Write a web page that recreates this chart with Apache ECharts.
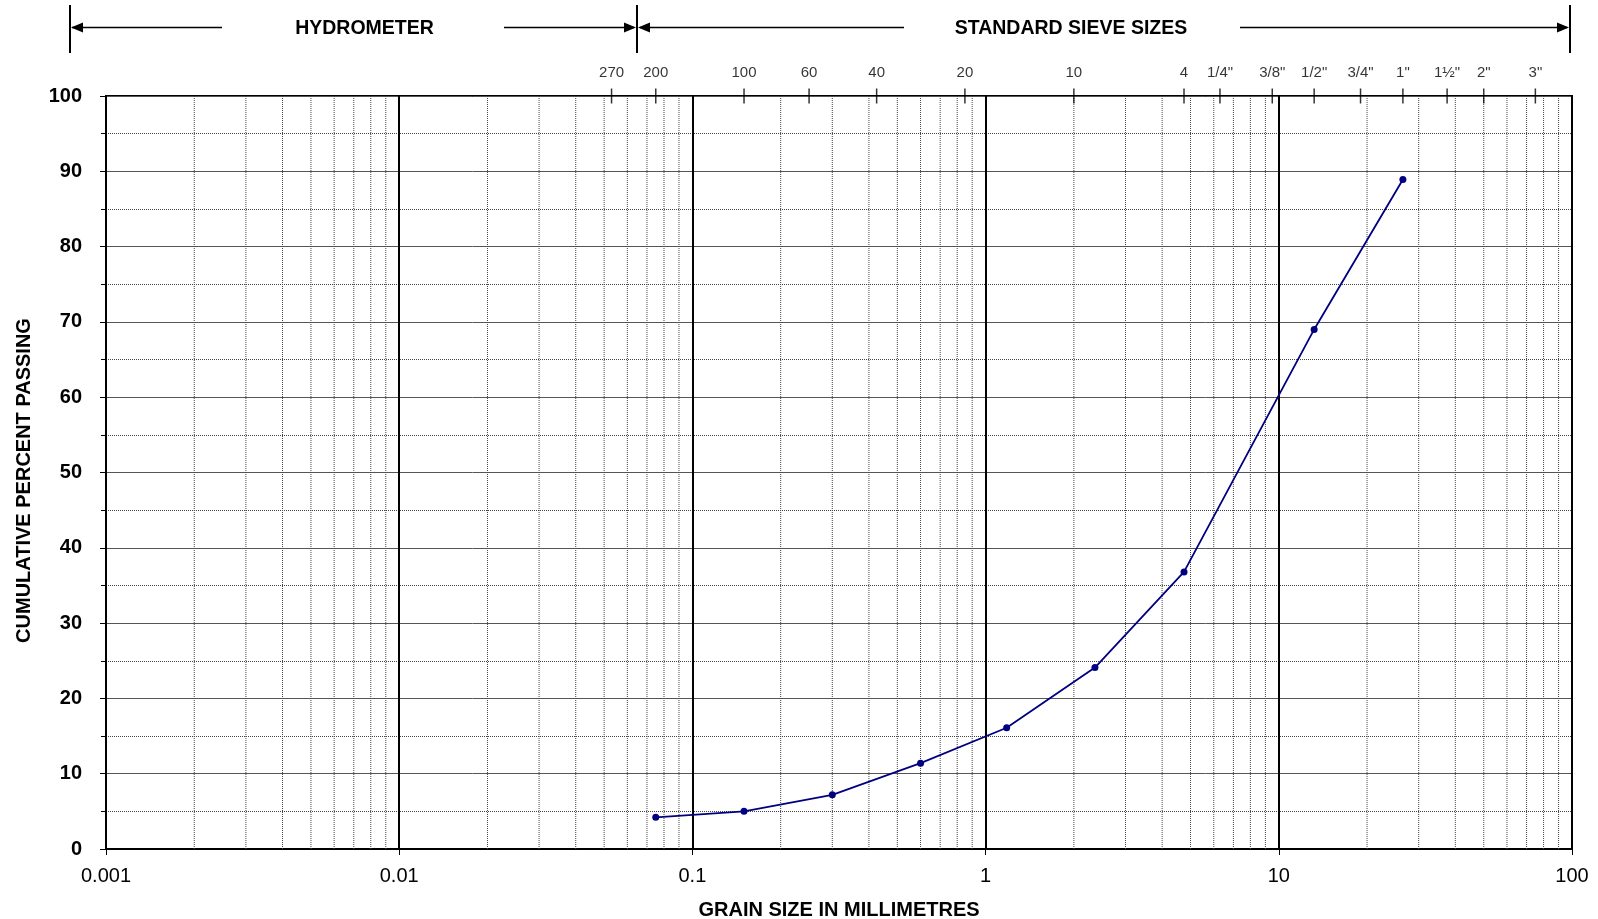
<!DOCTYPE html>
<html>
<head>
<meta charset="utf-8">
<script src="https://cdn.jsdelivr.net/npm/echarts@6/dist/echarts.min.js"></script>
<style>
html,body{margin:0;padding:0;background:#fff;}
#chart{width:1598px;height:919px;}
</style>
</head>
<body>
<div id="chart"></div>
<script>
// ---- data ----
var grainSize = [0.075, 0.15, 0.3, 0.6, 1.18, 2.36, 4.75, 13.2, 26.5];
var percentPassing = [4.2, 5.0, 7.2, 11.4, 16.1, 24.1, 36.8, 69.0, 88.9];

var sieveSizes = [0.053, 0.075, 0.15, 0.25, 0.425, 0.85, 2.0, 4.75, 6.3, 9.5, 13.2, 19, 26.5, 37.5, 50, 75];
var sieveLabels = ['270', '200', '100', '60', '40', '20', '10', '4', '1/4"', '3/8"', '1/2"', '3/4"', '1"', '1\u00BD"', '2"', '3"'];

var xTickLabels = ['0.001', '0.01', '0.1', '1', '10', '100'];
var yTickLabels = ['0', '10', '20', '30', '40', '50', '60', '70', '80', '90', '100'];

var xMin = 0.001, xMax = 100;
var yMin = 0, yMax = 100;
var FONT = "'Liberation Sans', Arial, sans-serif";

// minor log grid (2..9 within each decade), as broken vertical segments
var minorGridData = [];
for (var e = -3; e < 2; e++) {
  for (var m = 2; m <= 9; m++) {
    var v = m * Math.pow(10, e);
    minorGridData.push([v, yMin], [v, yMax], [v, '-']);
  }
}

var chart = echarts.init(document.getElementById('chart'), null, { renderer: 'canvas' });

function arrowHead(x, y, dir) {
  return {
    type: 'polygon',
    shape: { points: [[x, y], [x - dir * 12, y - 5], [x - dir * 12, y + 5]] },
    style: { fill: '#000' }
  };
}

var option = {
  backgroundColor: '#fff',
  animation: false,
  grid: {
    left: 106, right: 26, top: 96, bottom: 70,
    containLabel: false,
    outerBoundsMode: 'none',
    show: true, borderColor: '#000', borderWidth: 2, backgroundColor: 'transparent'
  },
  xAxis: {
    type: 'log',
    logBase: 10,
    min: xMin,
    max: xMax,
    splitNumber: 5,
    name: 'GRAIN SIZE IN MILLIMETRES',
    nameLocation: 'middle',
    nameGap: 51,
    nameTextStyle: { fontFamily: FONT, fontWeight: 'bold', fontSize: 20, color: '#000' },
    axisLine: { show: true, onZero: false, lineStyle: { color: '#000', width: 2 } },
    axisTick: { show: true, length: 6, lineStyle: { color: '#000', width: 1 } },
    axisLabel: {
      fontFamily: FONT, fontSize: 20, color: '#000', margin: 17,
      formatter: function (v) {
        var i = Math.round(Math.log10(v)) + 3;
        return xTickLabels[i] !== undefined ? xTickLabels[i] : '';
      }
    },
    splitLine: { show: true, lineStyle: { color: '#000', width: 2 } },
    minorTick: { show: false },
    minorSplitLine: { show: false }
  },
  yAxis: {
    type: 'value',
    min: yMin,
    max: yMax,
    interval: 10,
    name: 'CUMULATIVE PERCENT PASSING',
    nameLocation: 'middle',
    nameGap: 72,
    nameTextStyle: { fontFamily: FONT, fontWeight: 'bold', fontSize: 20, color: '#000', padding: [0, 16, 0, 0] },
    axisLine: { show: true, lineStyle: { color: '#000', width: 2 } },
    axisTick: { show: true, length: 6, lineStyle: { color: '#000', width: 1 } },
    minorTick: { show: true, splitNumber: 2, length: 5, lineStyle: { color: '#000', width: 1 } },
    axisLabel: {
      fontFamily: FONT, fontSize: 20, fontWeight: 'bold', color: '#000', margin: 24,
      formatter: function (v) { return yTickLabels[Math.round(v / 10)]; }
    },
    splitLine: { show: true, lineStyle: { color: '#555', width: 1 } },
    minorSplitLine: { show: true, lineStyle: { color: '#444', width: 1, type: [1, 1] } }
  },
  series: [
    {
      name: 'minorGrid',
      type: 'line',
      z: 1,
      silent: true,
      connectNulls: false,
      showSymbol: false,
      symbol: 'none',
      lineStyle: { color: '#444', width: 1, type: [1, 1] },
      data: minorGridData
    },
    {
      name: 'sieves',
      type: 'scatter',
      clip: false,
      z: 5,
      silent: true,
      symbol: 'rect',
      symbolSize: [1.5, 15],
      itemStyle: { color: '#000' },
      label: {
        show: true,
        position: 'top',
        distance: 8,
        fontFamily: FONT,
        fontSize: 15,
        color: '#000',
        formatter: function (p) { return sieveLabels[p.dataIndex]; }
      },
      data: sieveSizes.map(function (s) { return [s, yMax]; })
    },
    {
      name: 'grading',
      type: 'line',
      z: 10,
      symbol: 'circle',
      symbolSize: 7,
      showSymbol: true,
      lineStyle: { color: '#000080', width: 1.8 },
      itemStyle: { color: '#000080' },
      data: grainSize.map(function (g, i) { return [g, percentPassing[i]]; })
    }
  ],
  graphic: [
    { type: 'line', shape: { x1: 70, y1: 5, x2: 70, y2: 53 }, style: { stroke: '#000', lineWidth: 2 } },
    { type: 'line', shape: { x1: 637, y1: 5, x2: 637, y2: 53 }, style: { stroke: '#000', lineWidth: 2 } },
    { type: 'line', shape: { x1: 1570, y1: 5, x2: 1570, y2: 53 }, style: { stroke: '#000', lineWidth: 2 } },
    { type: 'line', shape: { x1: 72, y1: 27.5, x2: 222, y2: 27.5 }, style: { stroke: '#000', lineWidth: 1.5 } },
    arrowHead(71, 27.5, -1),
    { type: 'line', shape: { x1: 504, y1: 27.5, x2: 634, y2: 27.5 }, style: { stroke: '#000', lineWidth: 1.5 } },
    arrowHead(636, 27.5, 1),
    { type: 'text', x: 364.5, y: 29, style: { text: 'HYDROMETER', fontFamily: FONT, fontWeight: 'bold', fontSize: 19.5, fill: '#000', align: 'center', verticalAlign: 'middle' } },
    arrowHead(638, 27.5, -1),
    { type: 'line', shape: { x1: 640, y1: 27.5, x2: 904, y2: 27.5 }, style: { stroke: '#000', lineWidth: 1.5 } },
    { type: 'text', x: 1071, y: 29, style: { text: 'STANDARD SIEVE SIZES', fontFamily: FONT, fontWeight: 'bold', fontSize: 19.5, fill: '#000', align: 'center', verticalAlign: 'middle' } },
    { type: 'line', shape: { x1: 1240, y1: 27.5, x2: 1567, y2: 27.5 }, style: { stroke: '#000', lineWidth: 1.5 } },
    arrowHead(1569, 27.5, 1)
  ]
};

chart.setOption(option);
</script>
</body>
</html>
